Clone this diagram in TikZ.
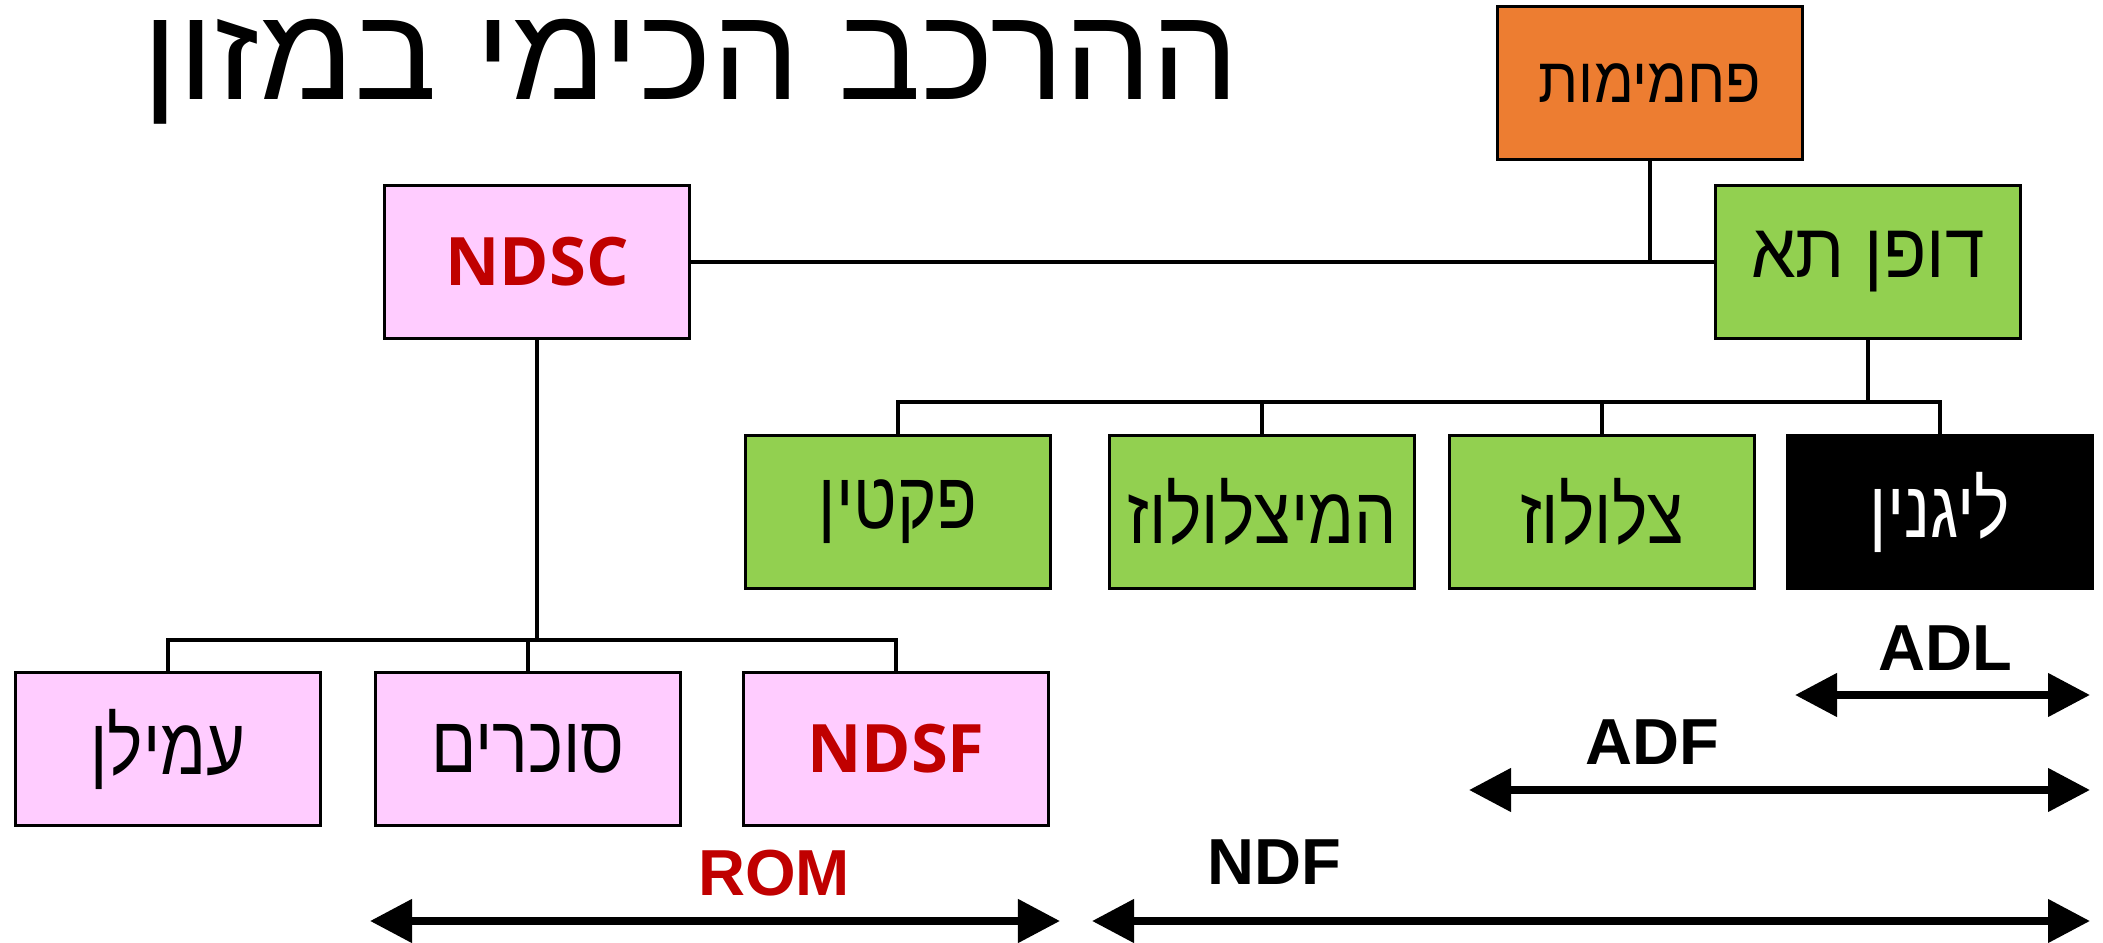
\documentclass[tikz,border=0pt]{standalone}
\usepackage{fontspec}
\setmainfont{Liberation Sans}
\newfontfamily\heb[Script=Hebrew]{Liberation Sans}
\newfontfamily\osans{Open Sans}
\TeXXeTstate=1
\usetikzlibrary{arrows.meta}
\definecolor{orng}{HTML}{ED7D31}
\definecolor{grn}{HTML}{92D050}
\definecolor{pnk}{HTML}{FFCCFF}
\definecolor{dred}{HTML}{C00000}
\tikzset{
  box/.style={draw=black, line width=0.9pt, minimum width=3.05cm, minimum height=1.53cm, inner sep=0pt, align=center},
  hebtxt/.style={font=\heb\fontsize{19}{22}\selectfont},
  conn/.style={line width=0.9pt},
  span/.style={line width=2.2pt, {Triangle[length=0.42cm,width=0.42cm]}-{Triangle[length=0.42cm,width=0.42cm]}},
  lbl/.style={font=\bfseries\fontsize{18.5}{20}\selectfont, inner sep=0pt}
}
\newcommand{\hb}[1]{\heb\beginR #1\endR}
\newcommand{\hbt}[1]{\scalebox{1}[1.2]{\heb\beginR #1\endR}}
\begin{document}
\begin{tikzpicture}[x=0.01cm,y=-0.01cm]
\useasboundingbox (0,0) rectangle (2103,943);
% title
\node[anchor=base, inner sep=0pt, font=\heb\fontsize{37.5}{40}\selectfont] (title) at (691,100) {\scalebox{1.05}[1]{\hb{ההרכב הכימי במזון}}};
% top boxes
\node[box, fill=orng, font=\heb\fontsize{16.5}{20}\selectfont] (pach) at (1650,83) {\scalebox{1}[1.1]{\hb{פחמימות}}};
\node[box, fill=grn, font=\heb\fontsize{22}{24}\selectfont] (dofen) at (1868,262) {\scalebox{0.92}[1]{\hb{דופן תא}}};
\node[box, fill=pnk, font=\osans\bfseries\fontsize{19}{22}\selectfont, text=dred] (ndsc) at (537,262) {NDSC};
% row 2
\node[box, fill=grn, hebtxt] (pektin) at (898,512) {\hbt{פקטין}};
\node[box, fill=grn, hebtxt] (hemi) at (1262,512) {\hbt{המיצלולוז}};
\node[box, fill=grn, hebtxt] (tzel) at (1602,512) {\hbt{צלולוז}};
\node[box, fill=black, hebtxt, text=white] (lignin) at (1940,512) {\hbt{ליגנין}};
% row 3
\node[box, fill=pnk, hebtxt] (amilan) at (168,749) {\hbt{עמילן}};
\node[box, fill=pnk, hebtxt] (sukar) at (528,749) {\hbt{סוכרים}};
\node[box, fill=pnk, font=\osans\bfseries\fontsize{19}{22}\selectfont, text=dred] (ndsf) at (896,749) {NDSF};
% connectors
\draw[conn] (ndsc.east) -- (dofen.west);
\draw[conn] (pach.south) -- (pach.south |- dofen.west);
\coordinate (g) at (1868,402);
\draw[conn] (dofen.south) -- (g);
\draw[conn] (pektin.north) -- (pektin.north |- g) -- (lignin.north |- g) -- (lignin.north);
\draw[conn] (hemi.north) -- (hemi.north |- g);
\draw[conn] (tzel.north) -- (tzel.north |- g);
\coordinate (p) at (537,640);
\draw[conn] (ndsc.south) -- (p);
\draw[conn] (amilan.north) -- (amilan.north |- p) -- (ndsf.north |- p) -- (ndsf.north);
\draw[conn] (sukar.north) -- (sukar.north |- p);
% spans
\coordinate (adlL) at (1795,695); \coordinate (adlR) at (2090,695);
\coordinate (adfL) at (1469,790); \coordinate (adfR) at (2090,790);
\coordinate (ndfL) at (1092,921); \coordinate (ndfR) at (2090,921);
\coordinate (romL) at (370,921); \coordinate (romR) at (1060,921);
\draw[span] (adlL) -- (adlR);
\draw[span] (adfL) -- (adfR);
\draw[span] (ndfL) -- (ndfR);
\draw[span] (romL) -- (romR);
\node[lbl] (adl) at (1945,648) {ADL};
\node[lbl] (adf) at (1652,742) {ADF};
\node[lbl] (ndf) at (1274,862) {NDF};
\node[lbl, text=dred] (rom) at (774,873) {ROM};
\end{tikzpicture}
\end{document}
